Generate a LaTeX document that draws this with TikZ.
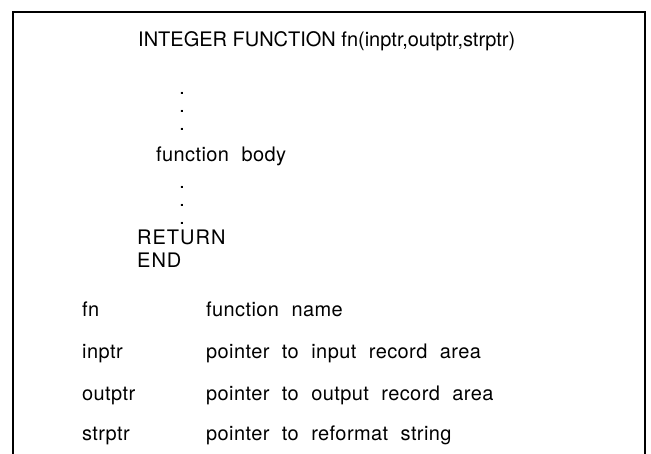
\documentclass[tikz,border=0pt]{standalone}
\usepackage{fontspec}
\setmainfont{TeX Gyre Heros}
\newfontfamily\codefont{TeX Gyre Heros}
\newfontfamily\kwfont{TeX Gyre Heros}[LetterSpace=5]
\newfontfamily\glossfont{TeX Gyre Heros}[LetterSpace=2,WordSpace=2.1]
% a vertical column of three dots, aligned on the baseline of the last one
\newcommand\dotcolumn{\begin{tabular}[b]{@{}c@{}}.\\.\\.\end{tabular}}
\begin{document}
\begin{tikzpicture}[x=1pt,y=-1pt,
  txt/.style={anchor=base west,inner sep=0pt,font=\glossfont\fontsize{20}{22}\selectfont},
  hdrtxt/.style={txt,font=\codefont\fontsize{20}{22}\selectfont},
  kwtxt/.style={txt,font=\kwfont\fontsize{20}{22}\selectfont},
  dotstack/.style={txt,font=\codefont\bfseries\fontsize{14}{18}\selectfont},
  frameline/.style={line width=2.6pt,line cap=rect}]
\useasboundingbox (0,0) rectangle (651,454);
% open frame: top, left and right sides
\coordinate (bl) at (13,454);
\coordinate (tl) at (13,12);
\coordinate (tr) at (645,12);
\coordinate (br) at (645,454);
\draw[frameline] (bl) -- (tl) -- (tr) -- (br);
% function skeleton
\node[hdrtxt] (hdr) at (138,47) {INTEGER FUNCTION fn(inptr,outptr,strptr)};
\node[dotstack] (dotsA) at (180,131) {\dotcolumn};
\node[txt] (body) at (156,162) {function body};
\node[dotstack] (dotsB) at (180,225) {\dotcolumn};
\node[kwtxt] (ret) at (137,245) {RETURN};
\node[kwtxt] (end) at (137,268) {END};
% argument glossary
\node[txt] (a1) at (82,317) {fn};
\node[txt] (b1) at (206,317) {function name};
\node[txt] (a2) at (82,359) {inptr};
\node[txt] (b2) at (206,359) {pointer to input record area};
\node[txt] (a3) at (82,400) {outptr};
\node[txt] (b3) at (206,400) {pointer to output record area};
\node[txt] (a4) at (82,440) {strptr};
\node[txt] (b4) at (206,440) {pointer to reformat string};
\end{tikzpicture}
\end{document}
